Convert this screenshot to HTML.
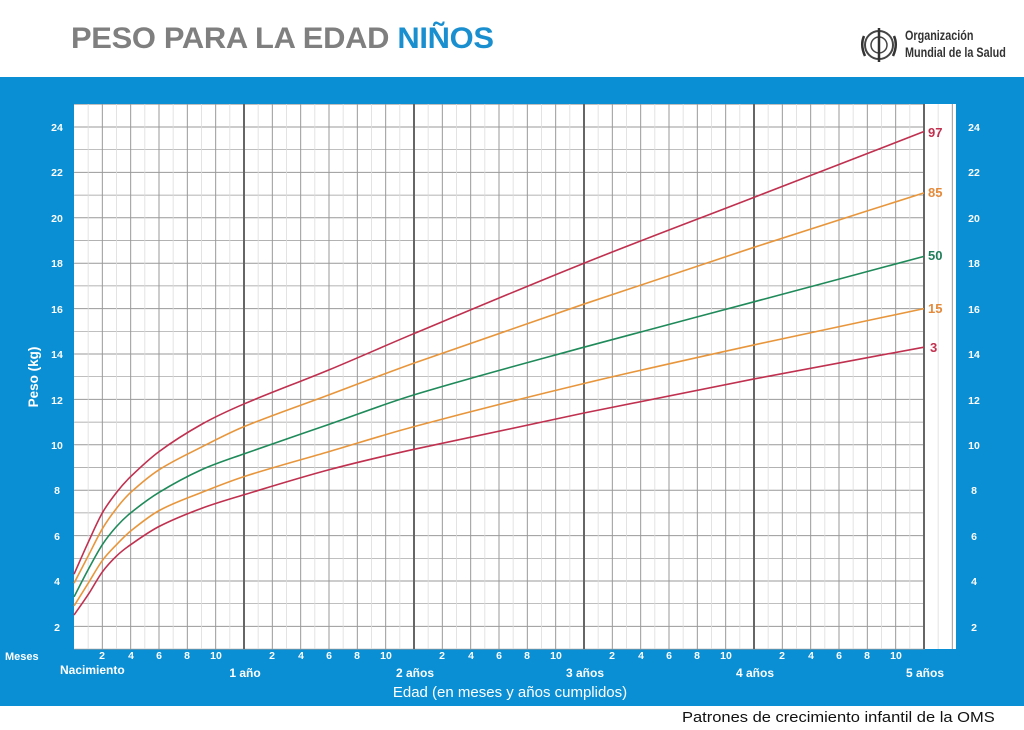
<!DOCTYPE html>
<html><head><meta charset="utf-8"><style>
body{margin:0;width:1024px;height:730px;background:#fff;position:relative;overflow:hidden;font-family:"Liberation Sans",sans-serif}
.t{position:absolute;font-weight:bold}
</style></head><body>
<div class="t" style="left:71px;top:22px;font-size:30px;color:#7f7f7f;letter-spacing:-0.3px;transform:scaleX(1.03);transform-origin:left">PESO PARA LA EDAD <span style="color:#1a8fd0">NIÑOS</span></div>
<svg style="position:absolute;left:856px;top:22px" width="46" height="46" viewBox="0 0 46 46">
<circle cx="23" cy="23" r="14" fill="none" stroke="#444" stroke-width="2"/><circle cx="23" cy="23" r="8" fill="none" stroke="#444" stroke-width="1.5"/>
<path d="M23 6V40M8 14Q4 23 9 34M38 14Q42 23 37 34" stroke="#333" stroke-width="2.5" fill="none"/></svg>
<div class="t" style="left:905px;top:27px;font-size:13.5px;color:#333;line-height:17px;white-space:nowrap;transform:scaleX(0.8);transform-origin:left">Organización<br>Mundial de la Salud</div>
<div style="position:absolute;left:0;top:77px;width:1024px;height:629px;background:#0a8fd4"></div>
<svg id="s" style="position:absolute;left:0;top:0" width="1024" height="730">
<rect x="74" y="104" width="882" height="545" fill="#fff"/>
<g id="g"></g>
<g font-family="Liberation Sans" font-weight="bold" font-size="10.5" fill="#fff" text-anchor="middle">
<text x="57" y="131">24</text><text x="57" y="176">22</text><text x="57" y="222">20</text><text x="57" y="267">18</text><text x="57" y="313">16</text><text x="57" y="358">14</text><text x="57" y="404">12</text><text x="57" y="449">10</text><text x="57" y="494">8</text><text x="57" y="540">6</text><text x="57" y="585">4</text><text x="57" y="631">2</text>
<text x="974" y="131">24</text><text x="974" y="176">22</text><text x="974" y="222">20</text><text x="974" y="267">18</text><text x="974" y="313">16</text><text x="974" y="358">14</text><text x="974" y="404">12</text><text x="974" y="449">10</text><text x="974" y="494">8</text><text x="974" y="540">6</text><text x="974" y="585">4</text><text x="974" y="631">2</text>
</g>
<g font-family="Liberation Sans" font-weight="bold" font-size="10.5" fill="#fff" text-anchor="middle">
<text x="102" y="659">2</text><text x="131" y="659">4</text><text x="159" y="659">6</text><text x="187" y="659">8</text><text x="216" y="659">10</text>
<text x="272" y="659">2</text><text x="301" y="659">4</text><text x="329" y="659">6</text><text x="357" y="659">8</text><text x="386" y="659">10</text>
<text x="442" y="659">2</text><text x="471" y="659">4</text><text x="499" y="659">6</text><text x="527" y="659">8</text><text x="556" y="659">10</text>
<text x="612" y="659">2</text><text x="641" y="659">4</text><text x="669" y="659">6</text><text x="697" y="659">8</text><text x="726" y="659">10</text>
<text x="782" y="659">2</text><text x="811" y="659">4</text><text x="839" y="659">6</text><text x="867" y="659">8</text><text x="896" y="659">10</text>
</g>
<g font-family="Liberation Sans" font-weight="bold" font-size="12" fill="#fff">
<text x="5" y="660" font-size="11">Meses</text>
<text x="60" y="674">Nacimiento</text>
<text x="245" y="677" text-anchor="middle">1 año</text>
<text x="415" y="677" text-anchor="middle">2 años</text>
<text x="585" y="677" text-anchor="middle">3 años</text>
<text x="755" y="677" text-anchor="middle">4 años</text>
<text x="925" y="677" text-anchor="middle">5 años</text>
<text x="38" y="377" font-size="13.5" transform="rotate(-90 38 377)" text-anchor="middle">Peso (kg)</text>
</g>
<text x="510" y="697" font-family="Liberation Sans" font-size="15" fill="#fff" text-anchor="middle">Edad (en meses y años cumplidos)</text>
<g font-family="Liberation Sans" font-weight="bold" font-size="13">
<text x="928" y="137" fill="#c0304f">97</text>
<text x="928" y="197" fill="#e48a3a">85</text>
<text x="928" y="260" fill="#1f7f5a">50</text>
<text x="928" y="313" fill="#e48a3a">15</text>
<text x="930" y="352" fill="#c0304f">3</text>
</g>
</svg>
<div style="position:absolute;left:682px;top:709px;font-size:15px;color:#111;white-space:nowrap;transform:scaleX(1.1);transform-origin:left">Patrones de crecimiento infantil de la OMS</div>
<script>
var g=document.getElementById('g'),h='';
function X(m){return 74+m*170/12}function Y(w){return 127+(24-w)*22.7}
for(var k=1;k<=25;k++){h+='<line x1="74" x2="925" y1="'+Y(k)+'" y2="'+Y(k)+'" stroke="#999" stroke-width="'+(k%2?0.7:1)+'"/>';}
for(var m=1;m<=62;m++){var c=m%12==0?'#666':(m%2?'#dcdcdc':'#999'),w=m%12==0?2:(m%2?0.8:1);h+='<line y1="104" y2="649" x1="'+X(m)+'" x2="'+X(m)+'" stroke="'+c+'" stroke-width="'+w+'"/>';}
var M=[0,1,2,3,4,6,9,12,18,24,36,48,60];
var D=[["#c0304f",[4.3,5.7,7.0,7.9,8.6,9.7,10.9,11.8,13.3,14.9,18.0,20.9,23.8]],
["#e8963c",[3.9,5.1,6.3,7.2,7.9,8.9,9.9,10.8,12.2,13.6,16.2,18.7,21.1]],
["#1f8a5a",[3.3,4.5,5.6,6.4,7.0,7.9,8.9,9.6,10.9,12.2,14.3,16.3,18.3]],
["#e8963c",[2.9,3.9,4.9,5.6,6.2,7.1,7.9,8.6,9.7,10.8,12.7,14.4,16.0]],
["#c0304f",[2.5,3.4,4.4,5.1,5.6,6.4,7.2,7.8,8.9,9.8,11.4,12.9,14.3]]];
D.forEach(function(d){var p=M.map(function(m,i){return [X(m),Y(d[1][i])]});var s='M'+p[0];
for(var i=0;i<p.length-1;i++){var a=p[i-1]||p[i],b=p[i],c=p[i+1],e=p[i+2]||c;
var t1=(c[0]-b[0])/(c[0]-a[0]||1),t2=(c[0]-b[0])/(e[0]-b[0]||1);
s+='C'+(b[0]+(c[0]-a[0])*t1/3)+','+(b[1]+(c[1]-a[1])*t1/3)+' '+(c[0]-(e[0]-b[0])*t2/3)+','+(c[1]-(e[1]-b[1])*t2/3)+' '+c;}
h+='<path d="'+s+'" fill="none" stroke="'+d[0]+'" stroke-width="1.6"/>';});
g.innerHTML=h;
</script>
</body></html>
